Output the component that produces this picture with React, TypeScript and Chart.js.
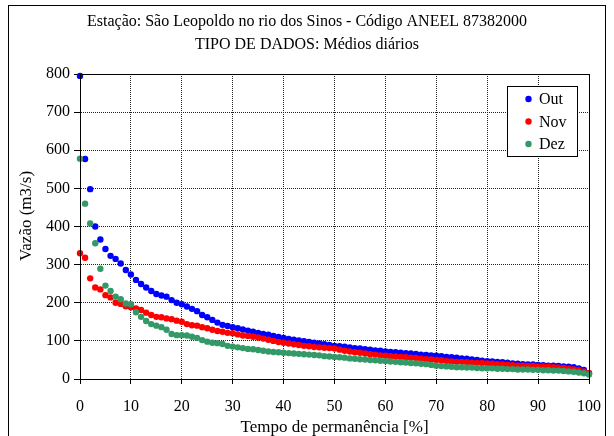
import React, { useEffect, useRef } from "react";
import { Chart, registerables } from "chart.js";
Chart.register(...registerables);

const titleLines = [
  "Estação: São Leopoldo no rio dos Sinos - Código ANEEL 87382000",
  "TIPO DE DADOS: Médios diários",
];
const xAxisTitle = "Tempo de permanência [%]";
const yAxisTitle = "Vazão (m3/s)";
const seriesNames = ["Out", "Nov", "Dez"];
const seriesColors = ["#0000FF", "#FF0000", "#339966"];

const permanencia = [
  0, 1, 2, 3, 4, 5, 6, 7, 8, 9,
  10, 11, 12, 13, 14, 15, 16, 17, 18, 19,
  20, 21, 22, 23, 24, 25, 26, 27, 28, 29,
  30, 31, 32, 33, 34, 35, 36, 37, 38, 39,
  40, 41, 42, 43, 44, 45, 46, 47, 48, 49,
  50, 51, 52, 53, 54, 55, 56, 57, 58, 59,
  60, 61, 62, 63, 64, 65, 66, 67, 68, 69,
  70, 71, 72, 73, 74, 75, 76, 77, 78, 79,
  80, 81, 82, 83, 84, 85, 86, 87, 88, 89,
  90, 91, 92, 93, 94, 95, 96, 97, 98, 99,
  100,
];

const outValues = [
  795, 577, 498, 400, 366, 341, 323, 315, 303, 286,
  274, 260, 249, 240, 231, 223, 219, 216, 207, 200,
  196, 190, 184, 178, 168, 162, 155, 148, 142, 139,
  136, 133, 130, 127, 124, 121, 118, 116, 113, 110,
  108, 105, 103, 101, 99, 97, 95, 93, 91, 89,
  87, 86, 85, 83, 81, 80, 78, 77, 75, 74,
  72, 71, 70, 69, 68, 67, 66, 64, 63, 62,
  61, 60, 58, 57, 56, 54, 53, 51, 50, 48,
  47, 46, 45, 44, 43, 41, 40, 39, 38, 38,
  37, 36, 35, 35, 34, 33, 32, 31, 28, 24,
  15,
];

const novValues = [
  330, 318, 264, 240, 235, 220, 214, 200, 197, 191,
  188, 185, 181, 174, 168, 163, 162, 159, 157, 153,
  150, 144, 141, 140, 136, 133, 129, 126, 124, 121,
  120, 117, 114, 113, 111, 109, 106, 103, 100, 97,
  95, 93, 91, 89, 87, 86, 84, 83, 82, 81,
  80, 77, 74, 72, 70, 69, 67, 65, 64, 62,
  61, 60, 59, 58, 57, 56, 55, 53, 52, 51,
  50, 49, 47, 46, 45, 45, 44, 43, 42, 42,
  41, 40, 39, 38, 37, 36, 35, 35, 34, 34,
  33, 33, 32, 31, 30, 29, 27, 25, 23, 20,
  15,
];

const dezValues = [
  578, 460, 408, 356, 289, 245, 231, 216, 209, 198,
  196, 175, 163, 152, 144, 140, 136, 129, 118, 115,
  115, 114, 111, 108, 102, 98, 95, 94, 92, 87,
  85, 83, 81, 79, 78, 76, 74, 72, 71, 70,
  69, 68, 67, 66, 65, 64, 63, 62, 60, 59,
  58, 57, 56, 54, 53, 52, 51, 50, 49, 48,
  47, 46, 45, 44, 43, 42, 41, 40, 39, 37,
  35, 34, 33, 32, 31, 31, 30, 30, 29, 28,
  28, 28, 27, 27, 26, 26, 25, 25, 25, 24,
  24, 23, 23, 22, 22, 21, 20, 19, 17, 15,
  12,
];

const xTicks = [0, 10, 20, 30, 40, 50, 60, 70, 80, 90, 100];
const yTicks = [0, 100, 200, 300, 400, 500, 600, 700, 800];

const FONT = '"Liberation Serif", "Times New Roman", serif';

const decorPlugin = {
  id: "decor",
  beforeDraw(chart: any) {
    const ctx = chart.ctx;
    ctx.save();
    ctx.fillStyle = "#ffffff";
    ctx.fillRect(0, 0, chart.width, chart.height);
    ctx.restore();
  },
  afterDraw(chart: any) {
    const ctx = chart.ctx;
    const { left, top, right, bottom } = chart.chartArea;
    ctx.save();
    // outer frame
    ctx.strokeStyle = "#000";
    ctx.lineWidth = 1;
    ctx.strokeRect(8.5, 5.5, 597, 440);
    // plot area border
    ctx.strokeRect(Math.round(left) + 0.5, Math.round(top) + 0.5, Math.round(right - left), Math.round(bottom - top));
    // title
    ctx.fillStyle = "#000";
    ctx.font = `16px ${FONT}`;
    ctx.textAlign = "center";
    ctx.textBaseline = "middle";
    ctx.fillText(titleLines[0], 307, 22);
    ctx.fillText(titleLines[1], 307, 45);
    // y axis title
    ctx.save();
    ctx.translate(27, 216);
    ctx.rotate(-Math.PI / 2);
    ctx.font = `17px ${FONT}`;
    ctx.fillText(yAxisTitle, 0, 0);
    ctx.restore();
    // legend
    const lx = 507, ly = 86, lw = 70, lh = 70;
    ctx.fillStyle = "#fff";
    ctx.fillRect(lx, ly, lw, lh);
    ctx.strokeStyle = "#000";
    ctx.strokeRect(lx + 0.5, ly + 0.5, lw, lh);
    ctx.textAlign = "left";
    ctx.textBaseline = "middle";
    chart.data.datasets.forEach((ds: any, i: number) => {
      const cy = ly + 13 + i * 22.5;
      ctx.fillStyle = ds.backgroundColor;
      ctx.beginPath();
      ctx.arc(lx + 21.5, cy, 3.2, 0, Math.PI * 2);
      ctx.fill();
      ctx.fillStyle = "#000";
      ctx.font = `16px ${FONT}`;
      ctx.fillText(ds.label, lx + 32, cy + 1);
    });
    ctx.restore();
  },
};

const seriesValues = [outValues, novValues, dezValues];

export default function App() {
  const ref = useRef<HTMLCanvasElement>(null);
  useEffect(() => {
    if (!ref.current) return;
    const chart = new Chart(ref.current, {
      type: "scatter",
      data: {
        datasets: seriesNames.map((name, i) => ({
          label: name,
          data: permanencia.map((x, j) => ({ x, y: seriesValues[i][j] })),
          backgroundColor: seriesColors[i],
          borderColor: seriesColors[i],
          pointRadius: 3.2,
          pointBorderWidth: 0,
          pointHoverRadius: 3.2,
          order: 3 - i,
          clip: false as any,
        })),
      },
      options: {
        responsive: false,
        animation: false,
        events: [],
        layout: { padding: { top: 74, right: 23, left: 0, bottom: 0 } },
        plugins: {
          legend: { display: false },
          title: { display: false },
          tooltip: { enabled: false },
        },
        scales: {
          x: {
            type: "linear",
            min: 0,
            max: 100,
            afterBuildTicks: (scale: any) => {
              scale.ticks = xTicks.map((v) => ({ value: v }));
            },
            afterFit: (scale: any) => {
              scale.height = 57;
            },
            grid: {
              color: "#222",
              lineWidth: 1,
              drawTicks: true,
              tickLength: 5,
              tickColor: "#000",
              tickBorderDash: [10, 0],
            },
            border: { display: true, color: "#000", width: 1, dash: [1, 1] },
            ticks: {
              color: "#000",
              font: { family: FONT, size: 16 },
              padding: 13,
              maxRotation: 0,
              autoSkip: false,
            },
            title: {
              display: true,
              text: xAxisTitle,
              color: "#000",
              font: { family: FONT, size: 17, lineHeight: 1 },
              padding: { top: 0, bottom: 0 },
            },
          },
          y: {
            type: "linear",
            min: 0,
            max: 800,
            afterBuildTicks: (scale: any) => {
              scale.ticks = yTicks.map((v) => ({ value: v }));
            },
            afterFit: (scale: any) => {
              scale.width = 80;
            },
            grid: {
              color: "#222",
              lineWidth: 1,
              drawTicks: true,
              tickLength: 6,
              tickColor: "#000",
              tickBorderDash: [10, 0],
            },
            border: { display: true, color: "#000", width: 1, dash: [1, 1] },
            ticks: {
              color: "#000",
              font: { family: FONT, size: 16 },
              padding: 4,
              autoSkip: false,
            },
          },
        },
      },
      plugins: [decorPlugin],
    } as any);
    return () => chart.destroy();
  }, []);
  return (
    <div style={{ position: "fixed", left: 0, top: 0, width: 614, height: 436 }}>
      <canvas ref={ref} width={614} height={436} style={{ display: "block" }} />
    </div>
  );
}
